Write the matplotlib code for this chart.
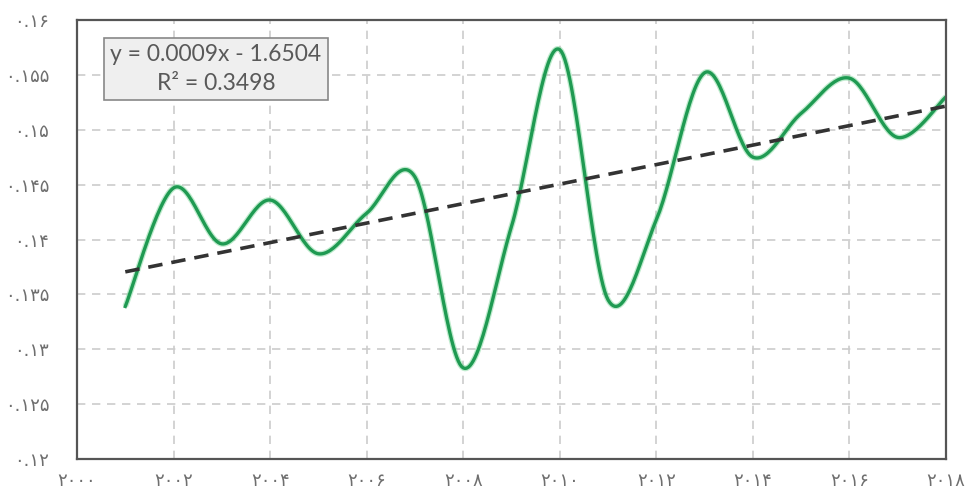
import numpy as np
import matplotlib
matplotlib.use("Agg")
from matplotlib import pyplot as plt

years = np.arange(2001, 2019)
values = np.array([0.1339, 0.1447, 0.1396, 0.1436, 0.1387, 0.1424, 0.1457, 0.1283, 0.1412,
                   0.1573, 0.1345, 0.1418, 0.1552, 0.1475, 0.1515, 0.1547, 0.1493, 0.1530])

xticks = np.arange(2000, 2019, 2)
yticks = np.arange(0.12, 0.1601, 0.005)
equation = "y = 0.0009x - 1.6504\nR² = 0.3498"

fa = "۰۱۲۳۴۵۶۷۸۹"
def fa_digits(s):
    return "".join(fa[int(c)] if c.isdigit() else c for c in s)

def smooth(x, y, n=30):
    # excel style smoothed line (catmull-rom bezier)
    px = np.concatenate([[x[0]], x, [x[-1]]])
    py = np.concatenate([[y[0]], y, [y[-1]]])
    xs, ys = [], []
    t = np.linspace(0, 1, n)
    for i in range(1, len(px) - 2):
        p0 = np.array([px[i], py[i]])
        p3 = np.array([px[i + 1], py[i + 1]])
        p1 = p0 + (p3 - np.array([px[i - 1], py[i - 1]])) / 6
        p2 = p3 - (np.array([px[i + 2], py[i + 2]]) - p0) / 6
        b = ((1 - t) ** 3)[:, None] * p0 + (3 * (1 - t) ** 2 * t)[:, None] * p1 \
            + (3 * (1 - t) * t ** 2)[:, None] * p2 + (t ** 3)[:, None] * p3
        xs.extend(b[:, 0]); ys.extend(b[:, 1])
    return np.array(xs), np.array(ys)

fig = plt.figure(figsize=(9.71, 4.98), dpi=100)
ax = fig.add_axes([0.0793, 0.0783, 0.8950, 0.8815])

sx, sy = smooth(years.astype(float), values)
ax.plot(sx, sy, color="#7fd89c", lw=4.2, alpha=0.5, solid_capstyle="butt")
ax.plot(sx, sy, color="#1f9a52", lw=2.4)

coef = np.polyfit(years, values, 1)
ax.plot(years, np.polyval(coef, years), color="#333333", lw=2.6, linestyle=(0, (4, 2.5)))

ax.set_xlim(2000, 2018)
ax.set_ylim(0.12, 0.16)
ax.set_xticks(xticks)
ax.set_yticks(yticks)
ax.set_xticklabels([fa_digits(str(v)) for v in xticks])
ax.set_yticklabels([fa_digits(("%.3f" % v).rstrip("0")) for v in yticks])
ax.tick_params(length=0, colors="#6f6f6f", labelsize=13)
ax.tick_params(axis="y", pad=20)
ax.tick_params(axis="x", pad=9)
ax.grid(True, color="#cccccc", lw=1.2, linestyle=(0, (5, 4)))
for s in ax.spines.values():
    s.set_color("#555555")
    s.set_linewidth(1.6)

ax.text(0.16, 0.888, equation, transform=ax.transAxes, ha="center", va="center",
        fontsize=16.5, color="#595959", family="Lato", linespacing=1.45,
        bbox=dict(boxstyle="square,pad=0.28", fc="#efefef", ec="#888888", lw=1.2))

fig.savefig("out.png", dpi=100)
